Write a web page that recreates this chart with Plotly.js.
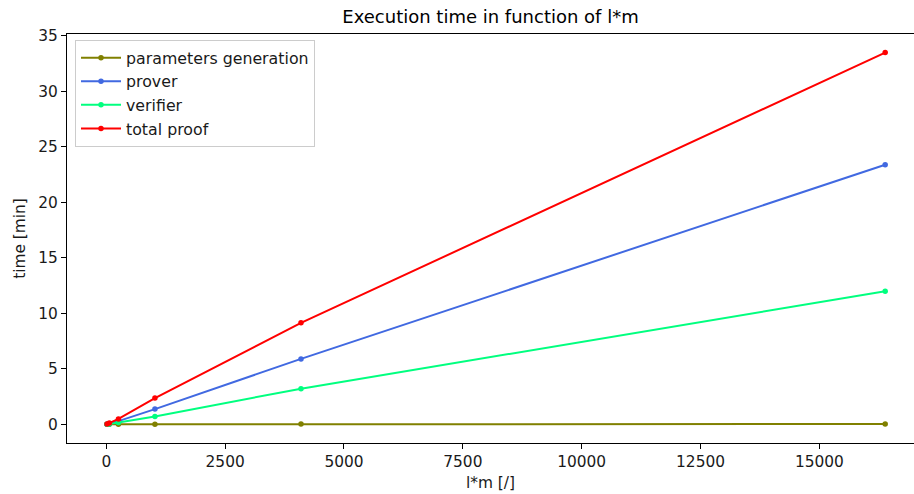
<!DOCTYPE html>
<html>
<head>
<meta charset="utf-8">
<script src="https://cdn.plot.ly/plotly-3.0.1.min.js"></script>
<style>
  html, body { margin: 0; padding: 0; background: #fff; overflow: hidden; }
  #chart { width: 914px; height: 494px; }
</style>
</head>
<body>
<div id="chart"></div>
<script>
const lm = [16, 64, 256, 1024, 4096, 16384];
const paramGen = [0.01, 0.01, 0.02, 0.02, 0.03, 0.04];
const prover = [0.02, 0.07, 0.3, 1.38, 5.9, 23.4];
const verifier = [0.01, 0.04, 0.17, 0.72, 3.22, 12.0];
const totalProof = [0.03, 0.12, 0.49, 2.37, 9.15, 33.5];

const seriesNames = ["parameters generation", "prover", "verifier", "total proof"];
const seriesValues = [paramGen, prover, verifier, totalProof];
const seriesColors = ["#808000", "#4169E1", "#00FF7F", "#FF0000"];

const traces = seriesNames.map((name, i) => ({
  type: "scatter",
  mode: "lines+markers",
  name: name,
  x: lm,
  y: seriesValues[i],
  line: { color: seriesColors[i], width: 2 },
  marker: { color: seriesColors[i], size: 5.5 },
  hoverinfo: "skip"
}));

const font = { family: "DejaVu Sans, sans-serif", size: 15.4, color: "#1a1a1a" };
const legendFont = { family: "DejaVu Sans, sans-serif", size: 15.8, color: "#1a1a1a" };

const layout = {
  width: 914,
  height: 494,
  margin: { l: 67, r: 0, t: 34, b: 51, pad: 0 },
  paper_bgcolor: "#fff",
  plot_bgcolor: "#fff",
  font: font,
  showlegend: true,
  title: {
    text: "Execution time in function of l*m",
    font: { family: "DejaVu Sans, sans-serif", size: 18, color: "#000" },
    x: 0.5, xanchor: "center", xref: "paper",
    y: 1 - 17 / 494, yanchor: "middle", yref: "container"
  },
  xaxis: {
    range: [-826, 16990],
    tickvals: [0, 2500, 5000, 7500, 10000, 12500, 15000],
    ticktext: ["0", "2500", "5000", "7500", "10000", "12500", "15000"],
    ticks: "outside", ticklen: 5, tickwidth: 1, tickcolor: "#000",
    showline: true, linecolor: "#000", linewidth: 1, mirror: true,
    showgrid: false, zeroline: false,
    tickfont: font,
    title: { text: "l*m [/]", font: font, standoff: 6 }
  },
  yaxis: {
    range: [-1.675, 35.175],
    tickvals: [0, 5, 10, 15, 20, 25, 30, 35],
    ticktext: ["0", "5", "10", "15", "20", "25", "30", "35"],
    ticks: "outside", ticklen: 5, tickwidth: 1, tickcolor: "#000",
    showline: true, linecolor: "#000", linewidth: 1, mirror: true,
    showgrid: false, zeroline: false,
    tickfont: font,
    title: { text: "time [min]", font: font, standoff: 8 }
  },
  legend: {
    x: (75 - 67) / 847, xanchor: "left",
    y: 1 - (40 - 34) / 409, yanchor: "top",
    bgcolor: "rgba(255,255,255,0.8)",
    bordercolor: "#cccccc", borderwidth: 1,
    font: legendFont,
    itemwidth: 40,
    tracegroupgap: 0
  }
};

Plotly.newPlot("chart", traces, layout, { displayModeBar: false, staticPlot: true });
</script>
</body>
</html>
